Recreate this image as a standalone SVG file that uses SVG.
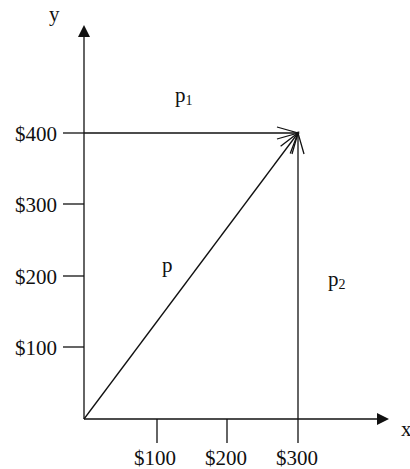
<svg xmlns="http://www.w3.org/2000/svg" width="410" height="469" viewBox="0 0 410 469">
<defs>
<style>
.ln{stroke:#111;stroke-width:1.3;fill:none}
.t{font-family:"Liberation Serif","Times New Roman",serif;font-size:21px;fill:#111}
.sub{font-size:14px}
</style>
<marker id="open" markerUnits="userSpaceOnUse" markerWidth="30" markerHeight="20" refX="0" refY="0" viewBox="-25 -10 30 20" orient="auto">
<path d="M-21,-6 L0,0 L-21,6" fill="none" stroke="#111" stroke-width="1.3"/>
</marker>
</defs>
<rect width="410" height="469" fill="#fff"/>
<g id="axes">
<line class="ln" x1="84" y1="419" x2="84" y2="34"/>
<polygon points="84,25 78,37 90,37" fill="#111"/>
<line class="ln" x1="84" y1="419" x2="379" y2="419"/>
<polygon points="389,419 377,413 377,425" fill="#111"/>
<text class="t" x="49" y="21">y</text>
<text class="t" x="401" y="436">x</text>
</g>
<g id="y-ticks">
<line class="ln" x1="63" y1="133" x2="84" y2="133"/>
<line class="ln" x1="63" y1="204" x2="84" y2="204"/>
<line class="ln" x1="63" y1="276" x2="84" y2="276"/>
<line class="ln" x1="63" y1="347" x2="84" y2="347"/>
<text class="t" x="57" y="141" text-anchor="end">$400</text>
<text class="t" x="57" y="212" text-anchor="end">$300</text>
<text class="t" x="57" y="284" text-anchor="end">$200</text>
<text class="t" x="57" y="355" text-anchor="end">$100</text>
</g>
<g id="x-ticks">
<line class="ln" x1="157" y1="419" x2="157" y2="443"/>
<line class="ln" x1="227" y1="419" x2="227" y2="443"/>
<text class="t" x="155" y="465" text-anchor="middle">$100</text>
<text class="t" x="226" y="465" text-anchor="middle">$200</text>
<text class="t" x="297" y="465" text-anchor="middle">$300</text>
</g>
<g id="connectors">
<line class="ln" x1="84" y1="133" x2="298" y2="133" marker-end="url(#open)"/>
<line class="ln" x1="298" y1="443" x2="298" y2="133" marker-end="url(#open)"/>
<line class="ln" x1="84" y1="419" x2="298" y2="133" marker-end="url(#open)"/>
</g>
<g id="label-p1"><text class="t" x="175" y="102">p<tspan class="sub" dy="3">1</tspan></text></g>
<g id="label-p"><text class="t" x="162" y="272">p</text></g>
<g id="label-p2"><text class="t" x="328" y="286">p<tspan class="sub" dy="3">2</tspan></text></g>
</svg>
